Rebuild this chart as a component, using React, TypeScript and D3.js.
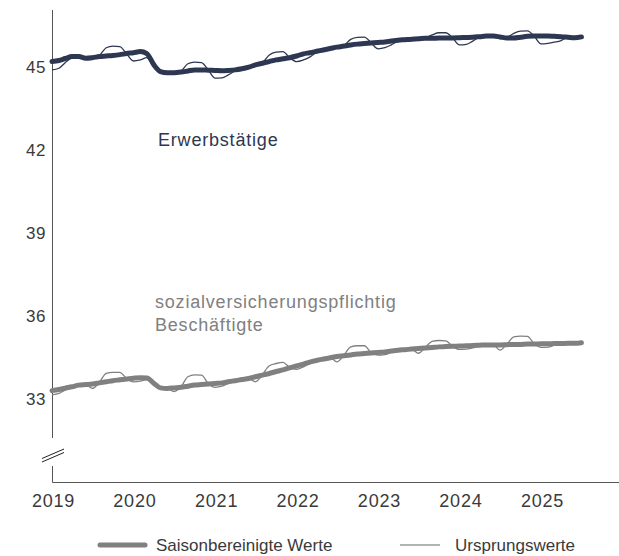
import React from "react";
import * as d3 from "d3";

// Monthly data, Jan 2019 – Jul 2025 (millions)
const startMonth = new Date(2019, 0, 1);

const erwerbSA = [
  45.16, 45.2, 45.27, 45.34, 45.34, 45.28, 45.3, 45.34, 45.36, 45.38, 45.41, 45.45,
  45.48, 45.52, 45.45, 45.05, 44.8, 44.76, 44.76, 44.78, 44.82, 44.86, 44.86, 44.85,
  44.84, 44.83, 44.84, 44.86, 44.9, 44.96, 45.04, 45.1, 45.16, 45.22, 45.26, 45.3,
  45.36, 45.44, 45.48, 45.53, 45.58, 45.63, 45.68, 45.72, 45.76, 45.79, 45.81, 45.83,
  45.85, 45.87, 45.9, 45.93, 45.95, 45.97, 45.98, 46.0, 46.0, 46.01, 46.01, 46.01,
  46.02, 46.03, 46.04, 46.06, 46.08, 46.08, 46.05, 46.01, 46.01, 46.04, 46.07, 46.08,
  46.08, 46.08, 46.07, 46.06, 46.04, 46.02, 46.05,
];

const erwerbNSA = [
  44.86, 44.92, 45.12, 45.3, 45.34, 45.3, 45.3, 45.38, 45.66, 45.72, 45.7, 45.44,
  45.18, 45.22, 45.3, 45.0, 44.78, 44.76, 44.76, 44.82, 45.08, 45.14, 45.12, 44.86,
  44.56, 44.57, 44.68, 44.82, 44.9, 44.98, 45.04, 45.12, 45.4, 45.5, 45.52, 45.3,
  45.16, 45.22, 45.32, 45.5, 45.58, 45.64, 45.68, 45.74, 45.96, 46.03, 46.04, 45.84,
  45.62, 45.66, 45.76, 45.9, 45.95, 45.98, 45.98, 46.02, 46.12, 46.2, 46.2, 46.02,
  45.76, 45.78, 45.9, 46.04, 46.08, 46.08, 46.05, 46.04, 46.18, 46.26, 46.27, 46.08,
  45.8, 45.82, 45.86, 45.92, 46.04, 46.02, 46.05,
];

const svbSA = [
  33.28, 33.32, 33.37, 33.42, 33.48, 33.5, 33.52, 33.56, 33.6, 33.64, 33.67, 33.7,
  33.73, 33.75, 33.74, 33.55, 33.38, 33.36, 33.38, 33.4, 33.44, 33.48, 33.5, 33.52,
  33.54, 33.56, 33.6, 33.64, 33.68, 33.72, 33.78, 33.84, 33.9, 33.97, 34.03, 34.1,
  34.17, 34.24, 34.31, 34.37, 34.42, 34.47, 34.51, 34.54, 34.57, 34.6, 34.62, 34.64,
  34.66, 34.68, 34.71, 34.74, 34.76, 34.78, 34.8, 34.82, 34.84, 34.86, 34.87, 34.88,
  34.89, 34.9, 34.91, 34.92, 34.93, 34.93, 34.93, 34.94, 34.95, 34.95, 34.96, 34.96,
  34.97, 34.97, 34.98, 34.98, 34.99, 34.99, 35.01,
];

const svbNSA = [
  33.13, 33.18, 33.3, 33.4, 33.48, 33.5, 33.36, 33.58, 33.9, 33.94, 33.94, 33.72,
  33.6, 33.62, 33.68, 33.52, 33.38, 33.36, 33.25, 33.42, 33.78, 33.85, 33.84, 33.54,
  33.4, 33.44, 33.54, 33.62, 33.68, 33.72, 33.6, 33.86, 34.18, 34.26, 34.3, 34.12,
  34.05, 34.14, 34.25, 34.35, 34.42, 34.47, 34.32, 34.56, 34.86, 34.9, 34.9, 34.66,
  34.56, 34.58, 34.66, 34.73, 34.76, 34.78, 34.63, 34.84, 35.06, 35.09, 35.08, 34.88,
  34.77, 34.78, 34.82, 34.9, 34.93, 34.93, 34.74, 34.96, 35.22, 35.25, 35.24, 34.98,
  34.84, 34.85, 34.92, 34.98, 34.99, 34.99, 35.01,
];

const yearTicks = [2019, 2020, 2021, 2022, 2023, 2024, 2025];
const yTicks = [33, 36, 39, 42, 45];
const legendLabels = ["Saisonbereinigte Werte", "Ursprungswerte"];
const seriesLabels = ["Erwerbstätige", "sozialversicherungspflichtig", "Beschäftigte"];

const W = 619;
const H = 556;
const FONT = "'Liberation Sans', Arial, sans-serif";
const NAVY = "#2d3751";
const GREY = "#808080";
const AXIS = "#555555";
const TEXT = "#3a3a3a";

export default function App() {
  const x = d3
    .scaleTime()
    .domain([new Date(2019, 0, 1), new Date(2026, 0, 1)])
    .range([52, 52 + 7 * 81.5]);
  const y = d3.scaleLinear().domain([33, 45]).range([398.4, 66]);

  const toPts = (vals: number[]) =>
    vals.map((v, i) => [x(d3.timeMonth.offset(startMonth, i)), y(v)] as [number, number]);

  const line = d3.line<[number, number]>().curve(d3.curveMonotoneX);

  const axisX = 52.5;
  const baseY = 482.5;

  return (
    <svg
      width={W}
      height={H}
      style={{ position: "absolute", left: 0, top: 0, background: "#fff" }}
      fontFamily={FONT}
    >
      {/* y axis with break */}
      <line x1={axisX} x2={axisX} y1={10} y2={438} stroke={AXIS} strokeWidth={1} />
      <line x1={axisX} x2={axisX} y1={466} y2={baseY} stroke={AXIS} strokeWidth={1} />
      <line x1={42} y1={462} x2={64} y2={452.5} stroke="#222" strokeWidth={1} />
      <line x1={42} y1={458.5} x2={64} y2={449} stroke="#222" strokeWidth={1} />
      {/* x axis */}
      <line x1={axisX} x2={W} y1={baseY} y2={baseY} stroke={AXIS} strokeWidth={1} />

      {yTicks.map((t) => (
        <text key={t} x={46} y={y(t) + 6.5} textAnchor="end" fontSize={17} letterSpacing={0.5} fill={TEXT}>
          {t}
        </text>
      ))}
      {yearTicks.map((yr) => (
        <text
          key={yr}
          x={x(new Date(yr, 0, 1)) + 1.5}
          y={507}
          textAnchor="middle"
          fontSize={18}
          letterSpacing={0.8}
          fill={TEXT}
        >
          {yr}
        </text>
      ))}

      {/* series */}
      <path d={line(toPts(svbNSA)) || ""} fill="none" stroke={GREY} strokeWidth={1.3} strokeLinejoin="round" />
      <path d={line(toPts(svbSA)) || ""} fill="none" stroke={GREY} strokeWidth={5} strokeLinejoin="round" strokeLinecap="round" />
      <path d={line(toPts(erwerbNSA)) || ""} fill="none" stroke={NAVY} strokeWidth={1.3} strokeLinejoin="round" />
      <path d={line(toPts(erwerbSA)) || ""} fill="none" stroke={NAVY} strokeWidth={5} strokeLinejoin="round" strokeLinecap="round" />

      {/* series labels */}
      <text x={158} y={146} fontSize={18} fill={NAVY} letterSpacing={0.8}>
        {seriesLabels[0]}
      </text>
      <text x={155} y={308} fontSize={18} fill={GREY} letterSpacing={0.8}>
        {seriesLabels[1]}
      </text>
      <text x={155} y={331} fontSize={18} fill={GREY} letterSpacing={0.8}>
        {seriesLabels[2]}
      </text>

      {/* legend */}
      <line x1={100} x2={145} y1={545} y2={545} stroke={GREY} strokeWidth={5} strokeLinecap="round" />
      <text x={156} y={551} fontSize={17} fill={TEXT}>
        {legendLabels[0]}
      </text>
      <line x1={400} x2={440} y1={545} y2={545} stroke="#666" strokeWidth={1} />
      <text x={455} y={551} fontSize={17} fill={TEXT}>
        {legendLabels[1]}
      </text>
    </svg>
  );
}
